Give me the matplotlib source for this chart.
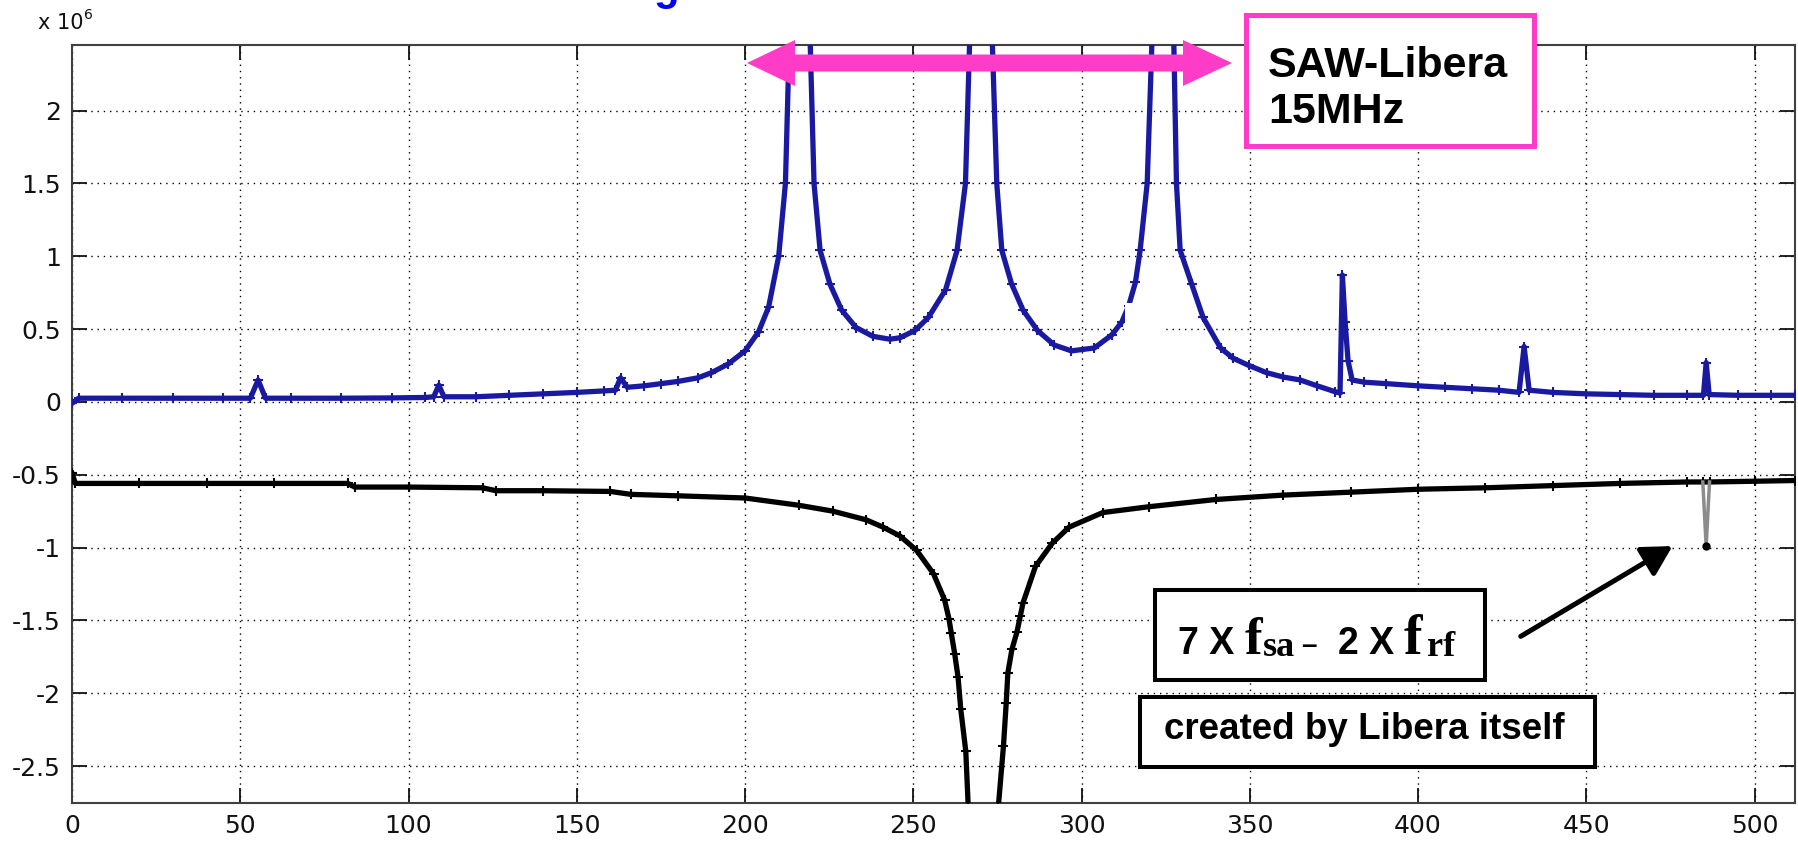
import matplotlib
matplotlib.use("Agg")
import matplotlib.pyplot as plt
from matplotlib.patches import Rectangle, Polygon
from matplotlib.transforms import Affine2D

plt.rcParams['font.family'] = ['Liberation Sans', 'DejaVu Sans']
plt.rcParams['axes.unicode_minus'] = False

W, H, DPI = 1798, 842, 100

# Spectrum magnitude of the SAW-filtered channel (values in units of 1e6)
blue_x = [0, 2, 15, 30, 45, 53, 55.3, 57.5, 65, 80, 95, 105, 107.5, 109, 110.5,
          120, 130, 140, 150, 158, 161.5, 163, 165, 170, 175, 180, 186, 190, 195,
          200, 204, 207, 210, 212, 213.3, 216.2, 219.2, 220.5, 222.3, 225.2,
          228.7, 233, 238, 243, 246, 250.5, 254.5, 259.6, 263, 265.5, 266.9,
          270.1, 273.3, 274.8, 276.3, 279.2, 282.6, 286.9, 291.9, 297, 303.8,
          309, 312, 314, 316, 317.4, 319.5, 321.1, 324.2, 327.3, 328.2, 329.3,
          332.7, 336.1, 341.3, 345, 349.7, 355, 360, 365, 370, 375.3, 376.8,
          377.5, 378.3, 379.2, 380.4, 384, 390.6, 400, 408, 416, 424, 430,
          431.5, 433, 440, 450, 460, 470, 480, 484.8, 485.6, 486.5, 495, 505, 512]
blue_y = [-0.01, 0.025, 0.025, 0.025, 0.025, 0.025, 0.15, 0.025, 0.025, 0.025,
          0.027, 0.03, 0.035, 0.115, 0.035,
          0.035, 0.045, 0.055, 0.065, 0.075, 0.08, 0.165, 0.1, 0.11, 0.125, 0.14,
          0.165, 0.2, 0.26,
          0.35, 0.48, 0.65, 1.0, 1.5, 2.6, 6.0, 2.6, 1.5, 1.04, 0.81,
          0.63, 0.51, 0.45, 0.43, 0.44, 0.49, 0.58, 0.77, 1.04, 1.5, 2.6,
          6.0, 2.6, 1.5, 1.04, 0.81, 0.63, 0.49, 0.39, 0.35, 0.37,
          0.46, 0.55, 0.66, 0.82, 1.04, 1.5, 2.6, 6.0, 2.6, 1.5, 1.04,
          0.81, 0.58, 0.37, 0.3, 0.25, 0.2, 0.17, 0.15, 0.11, 0.07, 0.06,
          0.87, 0.55, 0.28, 0.15, 0.135, 0.125, 0.11, 0.1, 0.09, 0.08, 0.065,
          0.38, 0.08, 0.065, 0.055, 0.05, 0.045, 0.045, 0.045, 0.27, 0.05,
          0.045, 0.045, 0.045]

# Spectrum of the reference channel (values in units of 1e6)
black_x = [0, 1, 20, 40, 60, 82, 84, 100, 122, 126, 140, 160, 166, 180, 200,
           216, 226, 236, 241, 246, 251, 256, 259.3, 260.6, 261.3, 262.3, 263.3,
           264.1, 265.6, 266.3, 270.8, 275.3, 276.8, 277.6, 278.1, 279.3, 280.8,
           281.8, 282.6, 286.3, 291.3, 296.3, 306.3, 320, 340, 360, 380, 400,
           420, 440, 460, 480, 484.6, 486.6, 500, 512]
black_y = [-0.49, -0.56, -0.56, -0.56, -0.56, -0.56, -0.585, -0.585, -0.59,
           -0.61, -0.61, -0.615, -0.635, -0.645, -0.66,
           -0.71, -0.75, -0.81, -0.86, -0.92, -1.02, -1.18, -1.36, -1.49, -1.59,
           -1.73, -1.89, -2.11, -2.40, -2.77, -8.0, -2.77, -2.36, -2.07, -1.86,
           -1.70, -1.58, -1.47, -1.38, -1.13, -0.97, -0.86, -0.76, -0.72, -0.67,
           -0.64, -0.62, -0.60, -0.59, -0.575, -0.56, -0.55, -0.55, -0.55,
           -0.545, -0.54]

# Spurious line at 7*f_sa - 2*f_rf
notch_x = [484.6, 485.6, 486.6]
notch_y = [-0.55, -0.99, -0.55]

x_ticks = [0, 50, 100, 150, 200, 250, 300, 350, 400, 450, 500]
y_ticks = [-2.5, -2, -1.5, -1, -0.5, 0, 0.5, 1, 1.5, 2]
y_tick_labels = ['-2.5', '-2', '-1.5', '-1', '-0.5', '0', '0.5', '1', '1.5', '2']

BLUE = '#1a1aa0'
MAGENTA = '#ff3cc8'
TICK_FONT = 'DejaVu Sans'

fig = plt.figure(figsize=(W / DPI, H / DPI), dpi=DPI, facecolor='white')
ax = fig.add_axes([72 / W, 1 - 803 / H, (1795 - 72) / W, (803 - 45) / H])
# pixel coordinates measured from the top-left corner of the canvas
px = Affine2D().scale(1.0 / W, -1.0 / H).translate(0, 1) + fig.transFigure

ax.plot(blue_x, blue_y, color=BLUE, lw=3.8, marker='+', ms=7, mew=1.5, zorder=3)
ax.plot(black_x, black_y, color='k', lw=3.8, marker='+', ms=7, mew=1.5, zorder=3)
ax.plot(notch_x, notch_y, color='#8c8c8c', lw=2.5, zorder=3)
ax.plot([notch_x[1]], [notch_y[1]], 'o', color='k', ms=5, zorder=4)

# blank patch sitting over the left flank of the third peak
ax.add_patch(Rectangle((312.8, 0.17), 11.5, 0.51, facecolor='white',
                       edgecolor='none', zorder=5))

ax.set_xlim(0, 512)
ax.set_ylim(-2.754, 2.45)
ax.set_xticks(x_ticks)
ax.set_yticks(y_ticks)
ax.set_yticklabels(y_tick_labels)
ax.grid(True, color='k', lw=1.0, ls=(0, (1, 3.5)))
ax.set_axisbelow(True)
ax.tick_params(direction='in', length=11, width=1.3, top=True, right=True,
               labelsize=18, pad=8, colors='#111111')
for lab in ax.get_xticklabels() + ax.get_yticklabels():
    lab.set_family(TICK_FONT)
for sp in ax.spines.values():
    sp.set_color('#404040')
    sp.set_linewidth(1.5)

# exponent label
fig.text(38, 29, 'x 10', transform=px, family=TICK_FONT, fontsize=15,
         color='#111111', va='baseline')
fig.text(84, 19, '6', transform=px, family=TICK_FONT, fontsize=10,
         color='#111111', va='baseline')

# title remnant at the top edge
fig.text(666, 0, 'g', transform=px, fontsize=30, fontweight='bold',
         color='#0000ff', ha='center', va='baseline')

# magenta double arrow spanning the SAW band
cy = 63
arrow_pts = [(747, cy), (795, cy - 23), (795, cy - 8.5), (1183, cy - 8.5),
             (1183, cy - 23), (1232, cy), (1183, cy + 23), (1183, cy + 8.5),
             (795, cy + 8.5), (795, cy + 23)]
fig.add_artist(Polygon(arrow_pts, closed=True, transform=px, facecolor=MAGENTA,
                       edgecolor='none', zorder=6))

# SAW-Libera box
fig.add_artist(Rectangle((1246, 15), 288, 131, transform=px, facecolor='white',
                         edgecolor=MAGENTA, lw=3.6, zorder=6))
fig.text(1268, 77, 'SAW-Libera', transform=px, fontsize=31, fontweight='bold',
         va='baseline', zorder=7)
fig.text(1268, 123, '15MHz', transform=px, fontsize=31, fontweight='bold',
         va='baseline', zorder=7)

# spur formula box
fig.add_artist(Rectangle((1155, 590), 330, 90, transform=px, facecolor='white',
                         edgecolor='black', lw=2.9, zorder=6))
sans = 'Liberation Sans'
serif = 'Liberation Serif'
pieces = [(1178, 654, '7 X', sans, 27), (1245, 654, 'f', serif, 38),
          (1263, 656, 'sa', serif, 26), (1301, 653, '\u2013', sans, 20),
          (1338, 654, '2 X', sans, 27), (1404, 654, 'f', serif, 40),
          (1427, 656, 'rf', serif, 26)]
for x0, y0, s, fam, size in pieces:
    fig.text(x0, y0, s, transform=px, family=fam, fontsize=size,
             fontweight='bold', va='baseline', zorder=7)

# caption box
fig.add_artist(Rectangle((1140, 697), 455, 70, transform=px, facecolor='white',
                         edgecolor='black', lw=2.9, zorder=6))
fig.text(1164, 739, 'created by Libera itself', transform=px, fontsize=26.5,
         fontweight='bold', va='baseline', zorder=7)

# pointer to the spur
ax.annotate('', xy=(475.6, -0.99), xytext=(430.5, -1.61),
            arrowprops=dict(arrowstyle='-|>,head_length=0.9,head_width=0.5',
                            color='k', lw=3.6, mutation_scale=20,
                            shrinkA=0, shrinkB=0),
            annotation_clip=False, zorder=7)

fig.savefig('out.png', dpi=DPI, facecolor='white')
